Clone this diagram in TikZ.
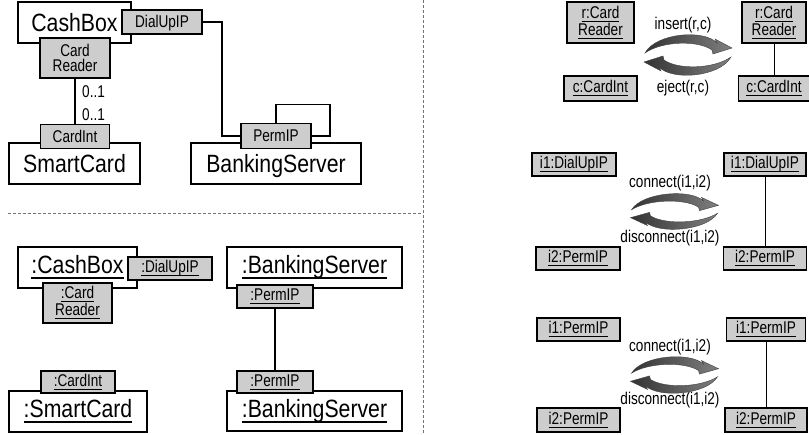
\documentclass[tikz,border=0pt]{standalone}
\usepackage{fontspec}
\setmainfont[FakeStretch=0.85]{Liberation Sans}
\newfontfamily\narrowfont[FakeStretch=0.80]{Liberation Sans}
\usetikzlibrary{calc}

\definecolor{portgray}{RGB}{205,205,205}

% underline with chosen depth and thickness
\newcommand{\undl}[3]{\setbox0=\hbox{#3}\dimen0=\wd0\leavevmode\box0\kern-\dimen0\rule[#1]{\dimen0}{#2}}
\newcommand{\ulbig}[1]{\undl{-5.5pt}{1.8pt}{#1}}
\newcommand{\ulsmall}[1]{\undl{-3.6pt}{1.2pt}{#1}}

\tikzset{
  big/.style={draw, line width=1.6pt, fill=white, inner sep=0pt,
    font=\fontsize{25}{25}\selectfont, text height=18pt, text depth=0pt},
  bigul/.style={big, text depth=5.5pt},
  port/.style={draw, line width=1.6pt, fill=portgray, inner sep=0pt,
    font=\narrowfont\fontsize{17}{14.5}\selectfont, align=center},
  portone/.style={port, text height=12pt, text depth=0pt},
  portul/.style={port, text height=12pt, text depth=3.6pt},
  inst/.style={draw, line width=1.2pt, fill=portgray, inner sep=0pt,
    font=\narrowfont\fontsize{17}{14.5}\selectfont, align=center},
  instone/.style={inst, text height=12pt, text depth=3.6pt},
  lbl/.style={inner sep=0pt, font=\narrowfont\fontsize{17}{17}\selectfont},
  link/.style={line width=1.6pt},
  thinlink/.style={line width=0.9pt},
  sep/.style={black!55, line width=0.9pt, dash pattern=on 3pt off 2pt},
  cycarrows/.pic={
    \foreach \r in {0,180}{
      \begin{scope}[rotate=\r]
        \path[draw=black!75, line width=0.4pt, left color=black!80, right color=black!50]
          (-43,-2) .. controls (-32,-22) and (16,-26) .. (29,-12)
          -- (27,-16) -- (44,-7) -- (25,-1) -- (24,-5)
          .. controls (10,-15) and (-26,-14) .. (-43,-2) -- cycle;
      \end{scope}
    }
  }
}

\begin{document}
\begin{tikzpicture}[x=1pt, y=-1pt]
\useasboundingbox (0,0) rectangle (809,435);

% separators
\draw[sep] (423,0) -- (423,435);
\draw[sep] (8,213) -- (423,213);

% ---- class diagram
\node[big, minimum width=113pt, minimum height=41pt] (cashbox) at (74.5,22.5) {CashBox};
\node[big, minimum width=131pt, minimum height=41pt] (smartcard) at (74.5,163.5) {SmartCard};
\node[big, minimum width=170pt, minimum height=41pt] (bankserver) at (276,163.5) {BankingServer};
\node[portone, minimum width=80pt, minimum height=24pt] (dialup) at (162,22) {DialUpIP};
\node[port, minimum width=70pt, minimum height=40pt] (cardreader) at (75,58) {Card\\Reader};
\node[portone, minimum width=69pt, minimum height=24pt] (cardint) at (75,136.5) {CardInt};
\node[portone, minimum width=70pt, minimum height=25pt] (permip) at (276,136) {PermIP};

\draw[link] (cardreader.south) -- (cardint.north);
\node[lbl, anchor=west] (mult1) at (82,92) {0..1};
\node[lbl, anchor=west] (mult2) at (82,115) {0..1};
\draw[link] (dialup.east) -- ++(19,0) |- (permip.west);
\draw[link] (permip.north) -- ++(0,-18) -- ++(54,0) |- (permip.east);

% ---- object diagram
\node[bigul, minimum width=119pt, minimum height=41pt] (ocash) at (77.5,267.5) {\ulbig{:CashBox}};
\node[bigul, minimum width=138pt, minimum height=41pt] (osmart) at (78,411.5) {\ulbig{:SmartCard}};
\node[bigul, minimum width=175pt, minimum height=41pt] (obankA) at (314.5,267.5) {\ulbig{:BankingServer}};
\node[bigul, minimum width=175pt, minimum height=40pt] (obankB) at (314.5,411) {\ulbig{:BankingServer}};
\node[portul, minimum width=84pt, minimum height=23pt] (odial) at (170,268.5) {\ulsmall{:DialUpIP}};
\node[port, minimum width=69pt, minimum height=40pt] (oreader) at (77.5,303) {\ulsmall{:Card}\\\ulsmall{Reader}};
\node[portul, minimum width=74pt, minimum height=22pt] (ocardint) at (78,382) {\ulsmall{:CardInt}};
\node[portul, minimum width=76pt, minimum height=23pt] (opermA) at (275,296.5) {\ulsmall{:PermIP}};
\node[portul, minimum width=76pt, minimum height=22pt] (opermB) at (275,382) {\ulsmall{:PermIP}};
\draw[link] (opermA.south) -- (opermB.north);

% ---- insert / eject
\node[inst, minimum width=67pt, minimum height=41pt] (rcr1) at (600.5,22.5) {\ulsmall{r:Card}\\\ulsmall{Reader}};
\node[instone, minimum width=73pt, minimum height=25pt] (cci1) at (600.5,88.5) {\ulsmall{c:CardInt}};
\node[inst, minimum width=64pt, minimum height=41pt] (rcr2) at (774,22.5) {\ulsmall{r:Card}\\\ulsmall{Reader}};
\node[instone, minimum width=71pt, minimum height=25pt] (cci2) at (774,88.5) {\ulsmall{c:CardInt}};
\draw[thinlink] (rcr2.south) -- (cci2.north);
\node[lbl] (ins) at (683,25) {insert(r,c)};
\node[lbl] (ejc) at (683,88) {eject(r,c)};
\pic at (688,55) {cycarrows};

% ---- connect / disconnect (DialUpIP)
\node[instone, minimum width=84pt, minimum height=23pt] (dA1) at (574,164.5) {\ulsmall{i1:DialUpIP}};
\node[instone, minimum width=84pt, minimum height=23pt] (dA2) at (578,258.5) {\ulsmall{i2:PermIP}};
\node[instone, minimum width=82pt, minimum height=23pt] (dB1) at (765,164.5) {\ulsmall{i1:DialUpIP}};
\node[instone, minimum width=83pt, minimum height=23pt] (dB2) at (765,258.5) {\ulsmall{i2:PermIP}};
\draw[thinlink] (dB1.south) -- (dB2.north);
\node[lbl] (con1) at (670,183) {connect(i1,i2)};
\node[lbl] (dis1) at (670,238) {disconnect(i1,i2)};
\pic[yscale=0.88] at (674.5,211.5) {cycarrows};

% ---- connect / disconnect (PermIP)
\node[instone, minimum width=83pt, minimum height=23pt] (pA1) at (578.5,329.5) {\ulsmall{i1:PermIP}};
\node[instone, minimum width=83pt, minimum height=24pt] (pA2) at (578.5,420) {\ulsmall{i2:PermIP}};
\node[instone, minimum width=79pt, minimum height=23pt] (pB1) at (766,329.5) {\ulsmall{i1:PermIP}};
\node[instone, minimum width=82pt, minimum height=24pt] (pB2) at (766,420) {\ulsmall{i2:PermIP}};
\draw[thinlink] (pB1.south) -- (pB2.north);
\node[lbl] (con2) at (670,347) {connect(i1,i2)};
\node[lbl] (dis2) at (670,400) {disconnect(i1,i2)};
\pic[yscale=0.9] at (674.5,375) {cycarrows};
\end{tikzpicture}
\end{document}
